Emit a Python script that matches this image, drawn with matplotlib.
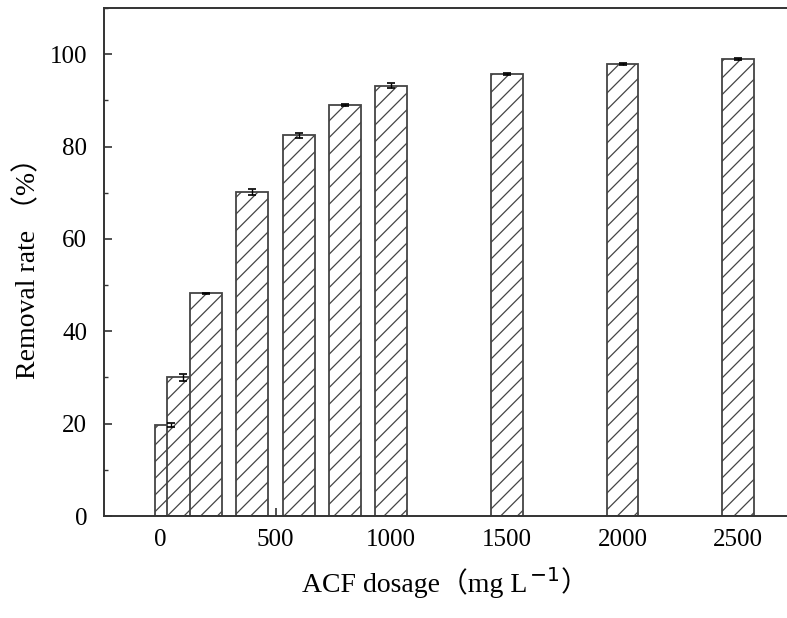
import matplotlib
matplotlib.use('Agg')
import matplotlib.pyplot as plt
from matplotlib.ticker import MultipleLocator
from matplotlib.offsetbox import TextArea, HPacker, AnchoredOffsetbox

# ACF dosage (mg/L) and removal rate (%)
dosage = [50, 100, 200, 400, 600, 800, 1000, 1500, 2000, 2500]
removal = [19.7, 30.0, 48.2, 70.2, 82.4, 89.0, 93.2, 95.7, 97.9, 99.0]
err = [0.5, 0.8, 0.2, 0.6, 0.5, 0.3, 0.6, 0.3, 0.2, 0.2]
xticks = [0, 500, 1000, 1500, 2000, 2500]

fam = ['Liberation Serif', 'Noto Sans CJK SC']
plt.rcParams['font.family'] = fam
plt.rcParams['mathtext.fontset'] = 'custom'
plt.rcParams['mathtext.rm'] = 'DejaVu Sans'
plt.rcParams['hatch.linewidth'] = 0.9
plt.rcParams['hatch.color'] = '#444444'

fig = plt.figure(figsize=(7.87, 6.18), dpi=100)
ax = fig.add_axes([0.132, 0.165, 0.868, 0.822])

ax.bar(dosage, removal, width=138, facecolor='white', edgecolor='#444444',
       linewidth=1.3, hatch='//', zorder=2)
ax.errorbar(dosage, removal, yerr=err, fmt='none', ecolor='black',
            elinewidth=1.0, capsize=3, capthick=1.2, zorder=3)

ax.set_xlim(-242, 2711)
ax.set_ylim(0, 110)
ax.set_xticks(xticks)
ax.yaxis.set_major_locator(MultipleLocator(20))
ax.yaxis.set_minor_locator(MultipleLocator(10))
ax.tick_params(axis='both', which='major', direction='in', length=6,
               width=1.2, labelsize=18, color='#333333')
ax.tick_params(axis='x', which='major', pad=9)
ax.tick_params(axis='y', which='major', pad=12)
ax.tick_params(axis='y', which='minor', direction='in', length=3,
               width=1.0, color='#333333')

ax.spines['right'].set_visible(False)
for s in ['left', 'top', 'bottom']:
    ax.spines[s].set_linewidth(1.4)
    ax.spines[s].set_color('#333333')

ax.set_ylabel('Removal rate （%）', fontsize=20, labelpad=6)

# x label with a raised "-1"
p1 = TextArea('ACF dosage（mg L', textprops=dict(fontsize=20, family=fam))
p2 = TextArea('$^{-1}$', textprops=dict(fontsize=21))
p3 = TextArea('）', textprops=dict(fontsize=20, family=fam))
xlab = HPacker(children=[p1, p2, p3], align='baseline', pad=0, sep=1)
box = AnchoredOffsetbox(loc='upper center', child=xlab, pad=0, borderpad=0,
                        frameon=False, bbox_to_anchor=(0.5, -0.102),
                        bbox_transform=ax.transAxes)
ax.add_artist(box)

fig.savefig('out.png', dpi=100)
